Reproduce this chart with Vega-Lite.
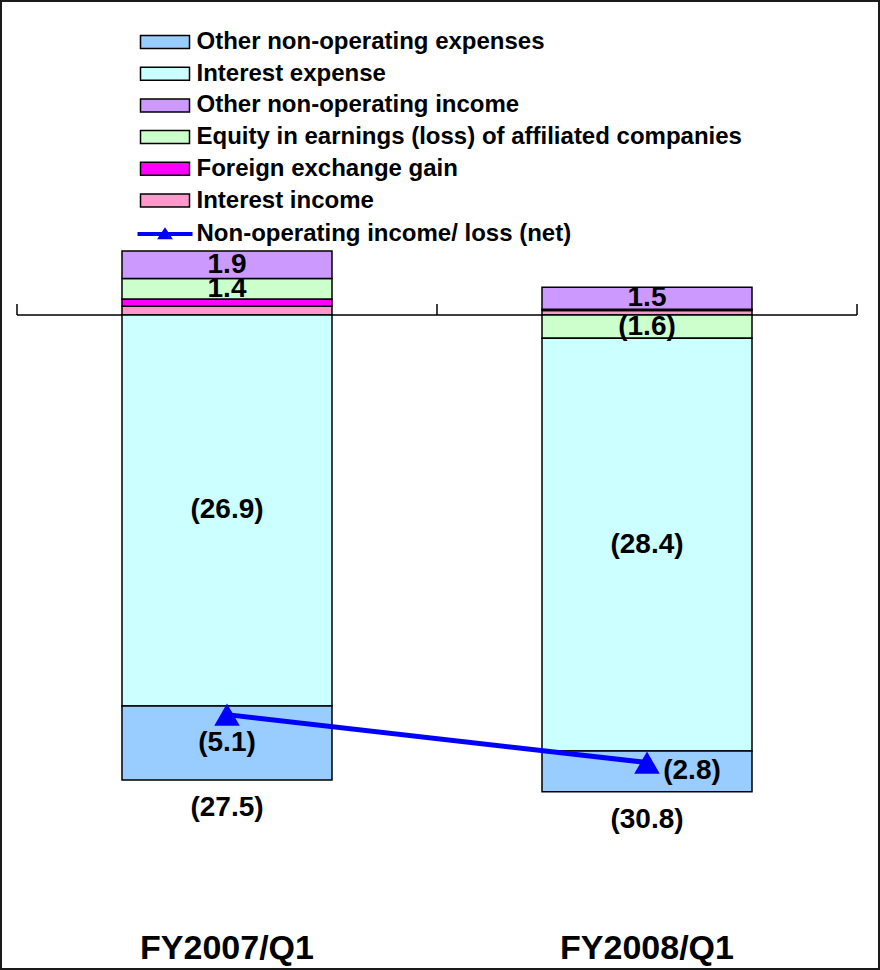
{
  "$schema": "https://vega.github.io/schema/vega-lite/v6.json",
  "width": 880,
  "height": 970,
  "autosize": {"type": "none"},
  "padding": 0,
  "background": "white",
  "config": {
    "font": "Liberation Sans",
    "view": {"stroke": "#1a1a1a", "strokeWidth": 4}
  },
  "datasets": {
    "components": [
      {"quarter": "FY2007/Q1", "item": "Interest income", "rank": 1, "value": 0.6, "label": ""},
      {"quarter": "FY2007/Q1", "item": "Foreign exchange gain", "rank": 2, "value": 0.5, "label": ""},
      {"quarter": "FY2007/Q1", "item": "Equity in earnings (loss) of affiliated companies", "rank": 3, "value": 1.4, "label": "1.4"},
      {"quarter": "FY2007/Q1", "item": "Other non-operating income", "rank": 4, "value": 1.9, "label": "1.9"},
      {"quarter": "FY2007/Q1", "item": "Interest expense", "rank": 5, "value": -26.9, "label": "(26.9)"},
      {"quarter": "FY2007/Q1", "item": "Other non-operating expenses", "rank": 6, "value": -5.1, "label": "(5.1)"},
      {"quarter": "FY2008/Q1", "item": "Interest income", "rank": 1, "value": 0.3, "label": ""},
      {"quarter": "FY2008/Q1", "item": "Foreign exchange gain", "rank": 2, "value": 0.1, "label": ""},
      {"quarter": "FY2008/Q1", "item": "Equity in earnings (loss) of affiliated companies", "rank": 3, "value": -1.6, "label": "(1.6)"},
      {"quarter": "FY2008/Q1", "item": "Other non-operating income", "rank": 4, "value": 1.5, "label": "1.5"},
      {"quarter": "FY2008/Q1", "item": "Interest expense", "rank": 5, "value": -28.4, "label": "(28.4)"},
      {"quarter": "FY2008/Q1", "item": "Other non-operating expenses", "rank": 6, "value": -2.8, "label": "(2.8)"}
    ],
    "totals": [
      {"quarter": "FY2007/Q1", "series": "Non-operating income/ loss (net)", "net": -27.5, "netLabel": "(27.5)"},
      {"quarter": "FY2008/Q1", "series": "Non-operating income/ loss (net)", "net": -30.8, "netLabel": "(30.8)"}
    ]
  },
  "encoding": {
    "x": {
      "field": "quarter",
      "type": "nominal",
      "sort": ["FY2007/Q1", "FY2008/Q1"],
      "scale": {"paddingInner": 0, "paddingOuter": 0.0476, "align": 0.425},
      "axis": {
        "orient": "bottom",
        "offset": -40,
        "domain": false,
        "ticks": false,
        "tickSize": 0,
        "labelPadding": 28,
        "labelBaseline": "alphabetic",
        "labelAngle": 0,
        "labelFont": "Liberation Sans",
        "labelFontSize": 34,
        "labelFontWeight": "bold",
        "labelColor": "black",
        "title": null,
        "grid": false
      }
    }
  },
  "resolve": {"scale": {"stroke": "independent", "fill": "independent"}},
  "layer": [
    {
      "data": {"values": [{"k": 1}]},
      "mark": {"type": "rule", "color": "black", "strokeWidth": 1.5},
      "encoding": {
        "x": {"datum": "FY2007/Q1", "bandPosition": 0},
        "x2": {"datum": "FY2008/Q1", "bandPosition": 1},
        "y": {"datum": 0, "type": "quantitative", "scale": {"domain": [-45.07, 21.67], "nice": false, "zero": false}, "axis": null}
      }
    },
    {
      "data": {"name": "totals"},
      "mark": {"type": "rule", "color": "black", "strokeWidth": 1.5},
      "encoding": {
        "x": {"field": "quarter", "type": "nominal", "bandPosition": 0},
        "y": {"datum": 0, "type": "quantitative"},
        "y2": {"datum": 0.75}
      }
    },
    {
      "data": {"values": [{"k": 1}]},
      "mark": {"type": "rule", "color": "black", "strokeWidth": 1.5},
      "encoding": {
        "x": {"datum": "FY2008/Q1", "bandPosition": 1},
        "y": {"datum": 0, "type": "quantitative"},
        "y2": {"datum": 0.75}
      }
    },
    {
      "data": {"name": "components"},
      "transform": [
        {"stack": "value", "groupby": ["quarter"], "sort": [{"field": "rank", "order": "ascending"}], "as": ["y0", "y1"]}
      ],
      "mark": {"type": "bar", "stroke": "black", "strokeWidth": 1.5, "width": {"band": 0.5}},
      "encoding": {
        "y": {"field": "y0", "type": "quantitative"},
        "y2": {"field": "y1"},
        "fill": {
          "field": "item",
          "type": "nominal",
          "scale": {
            "domain": ["Other non-operating expenses", "Interest expense", "Other non-operating income", "Equity in earnings (loss) of affiliated companies", "Foreign exchange gain", "Interest income"],
            "range": ["#99CCFF", "#CCFFFF", "#CC99FF", "#CCFFCC", "#FF00FF", "#FF99CC"]
          },
          "legend": {
            "orient": "none",
            "legendX": 153,
            "legendY": 30,
            "title": null,
            "padding": 0,
            "columns": 1,
            "symbolType": "M-2.45,-0.65H2.45V0.65H-2.45Z",
            "symbolSize": 400,
            "symbolStrokeColor": "black",
            "symbolStrokeWidth": 1.5,
            "symbolOpacity": 1,
            "labelFont": "Liberation Sans",
            "labelFontSize": 24,
            "labelFontWeight": "bold",
            "labelColor": "black",
            "labelOffset": 19.5,
            "labelLimit": 700,
            "rowPadding": 7.7
          }
        }
      }
    },
    {
      "data": {"name": "components"},
      "transform": [
        {"stack": "value", "groupby": ["quarter"], "sort": [{"field": "rank", "order": "ascending"}], "as": ["y0", "y1"]},
        {"calculate": "(datum.y0 + datum.y1) / 2", "as": "mid"},
        {"filter": "datum.label != '' && datum.label != '(2.8)'"}
      ],
      "mark": {"type": "text", "font": "Liberation Sans", "fontSize": 28, "fontWeight": "bold", "color": "black", "baseline": "middle", "align": "center"},
      "encoding": {
        "y": {"field": "mid", "type": "quantitative"},
        "text": {"field": "label"}
      }
    },
    {
      "data": {"name": "components"},
      "transform": [
        {"stack": "value", "groupby": ["quarter"], "sort": [{"field": "rank", "order": "ascending"}], "as": ["y0", "y1"]},
        {"calculate": "(datum.y0 + datum.y1) / 2", "as": "mid"},
        {"filter": "datum.label == '(2.8)'"}
      ],
      "mark": {"type": "text", "font": "Liberation Sans", "fontSize": 28, "fontWeight": "bold", "color": "black", "baseline": "middle", "align": "center", "dx": 45},
      "encoding": {
        "y": {"field": "mid", "type": "quantitative"},
        "text": {"field": "label"}
      }
    },
    {
      "data": {"name": "components"},
      "transform": [
        {"filter": "datum.value < 0"},
        {"aggregate": [{"op": "sum", "field": "value", "as": "neg"}], "groupby": ["quarter"]},
        {"lookup": "quarter", "from": {"data": {"name": "totals"}, "key": "quarter", "fields": ["netLabel"]}}
      ],
      "mark": {"type": "text", "font": "Liberation Sans", "fontSize": 28, "fontWeight": "bold", "color": "black", "baseline": "middle", "align": "center", "dy": 28},
      "encoding": {
        "y": {"field": "neg", "type": "quantitative"},
        "text": {"field": "netLabel"}
      }
    },
    {
      "data": {"name": "totals"},
      "mark": {"type": "line", "strokeWidth": 5},
      "encoding": {
        "y": {"field": "net", "type": "quantitative"},
        "stroke": {
          "field": "series",
          "type": "nominal",
          "scale": {"range": ["#0000FF"]},
          "legend": {
            "orient": "none",
            "legendX": 153,
            "legendY": 222,
            "title": null,
            "padding": 0,
            "symbolType": "M-2.75,0H2.75M-0.42,0.32L0,-0.32L0.42,0.32Z",
            "symbolSize": 400,
            "symbolFillColor": "#0000FF",
            "symbolStrokeColor": "#0000FF",
            "symbolStrokeWidth": 4,
            "labelFont": "Liberation Sans",
            "labelFontSize": 24,
            "labelFontWeight": "bold",
            "labelColor": "black",
            "labelOffset": 19.5,
            "labelLimit": 700
          }
        }
      }
    },
    {
      "data": {"name": "totals"},
      "mark": {"type": "point", "shape": "triangle-up", "filled": true, "color": "#0000FF", "size": 650, "opacity": 1},
      "encoding": {
        "y": {"field": "net", "type": "quantitative"}
      }
    }
  ]
}
